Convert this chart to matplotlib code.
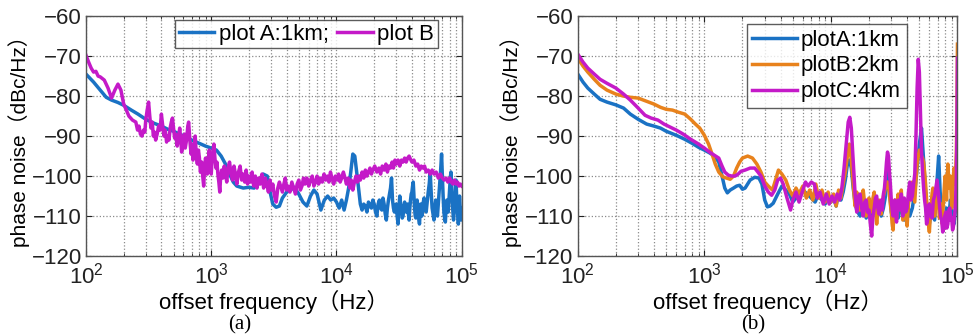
import numpy as np
import matplotlib
matplotlib.use('Agg')
import matplotlib.pyplot as plt
from matplotlib.ticker import LogLocator, FixedLocator

plt.rcParams['font.family'] = ['Liberation Sans', 'Noto Sans CJK SC', 'DejaVu Sans']
plt.rcParams['mathtext.fontset'] = 'custom'
plt.rcParams['mathtext.rm'] = 'Liberation Sans'
plt.rcParams['mathtext.it'] = 'Liberation Sans'

# (frequency Hz, phase noise dBc/Hz)
# ---- (a) plot A:1km ----
a_plotA = [(100, -74.5), (115, -76.5), (130, -78.5), (145, -80.3), (160, -81.0), (180, -81.6),
           (200, -82.3), (230, -83.5), (260, -84.5), (300, -85.8), (350, -86.8), (400, -87.5),
           (450, -88.3), (500, -88.8), (560, -89.5), (630, -90.3), (700, -91.0), (800, -91.8),
           (900, -92.5), (1000, -93.0), (1100, -93.5), (1200, -95.0), (1300, -97.0),
           (1400, -99.5), (1500, -101.5), (1600, -102.5), (1800, -103.0), (2000, -102.8),
           (2200, -103.0), (2400, -101.5), (2600, -99.5), (2800, -100.0), (2950, -104.0),
           (3100, -107.0), (3300, -107.8), (3500, -107.5), (3700, -105.5), (4000, -104.0),
           (4300, -103.5), (4600, -102.8), (5000, -104.5), (5400, -106.5), (5800, -107.5),
           (6200, -105.0), (6600, -103.5), (7000, -104.5), (7500, -108.5), (8000, -106.0),
           (8500, -105.0), (9000, -106.0), (9500, -105.5), (10000, -106.5), (10500, -108.0),
           (11000, -106.0), (11500, -108.5), (12000, -106.0), (12500, -103.0), (13000, -99.0),
           (13500, -94.5), (14000, -95.0), (14500, -99.0), (15000, -103), (15500, -107),
           (16000, -108.5), (16500, -107), (17000, -107.5), (17500, -109), (18000, -106.5),
           (18500, -107.5), (19000, -108), (19500, -106), (20000, -107), (20500, -109),
           (21000, -110), (21500, -107), (22000, -106), (22500, -108), (23000, -108.5),
           (23500, -105.5), (24000, -107), (24500, -109.5), (25000, -111), (25500, -108),
           (26000, -106), (26500, -104.5), (27000, -103), (27500, -100.5), (28000, -106),
           (28500, -108), (29000, -109), (29500, -107.5), (30000, -107), (30500, -110),
           (31000, -112), (31500, -108), (32000, -105), (32500, -107), (33000, -108),
           (33500, -110.5), (34000, -110), (34500, -107.5), (35000, -106.5), (35500, -108),
           (36000, -109), (36500, -107.5), (37000, -107), (37500, -109.5), (38000, -111),
           (38500, -108), (39000, -106), (39500, -104.5), (40000, -104), (40500, -102.5),
           (41000, -101.5), (41500, -105), (42000, -108), (42500, -110), (43000, -110.5),
           (43500, -108), (44000, -106), (44500, -107.5), (45000, -109), (45500, -111),
           (46000, -112), (46500, -109), (47000, -107), (47500, -108.5), (48000, -110),
           (49000, -107), (50000, -105.5), (51000, -107.5), (52000, -109), (53000, -106.5),
           (54000, -104), (55000, -102), (56000, -99), (57000, -104), (58000, -108),
           (59000, -109.5), (60000, -111), (61000, -108), (62000, -106), (63000, -108.5),
           (64000, -110), (65000, -107), (66000, -104), (67000, -101), (68000, -98),
           (69000, -94.5), (70000, -100), (71000, -105), (72000, -109), (73000, -110.5),
           (74000, -111.5), (75000, -108), (76000, -106), (77000, -107.5), (78000, -109),
           (79000, -106), (80000, -103), (81000, -100.5), (82000, -99), (83000, -102),
           (84000, -106), (85000, -109), (86000, -111), (87000, -109), (88000, -107),
           (89000, -104), (90000, -101), (91000, -105), (92000, -108), (93000, -110),
           (94000, -112), (95000, -108.5), (96000, -105), (97000, -107.5), (98000, -110),
           (99000, -111), (100000, -108)]

# ---- (a) plot B ----
a_plotB = [(100, -69.8), (105, -71.5), (110, -73.0), (115, -74.0), (120, -73.8), (125, -75.0),
           (130, -75.2), (140, -76.0), (150, -78.0), (160, -80.5), (170, -78.5), (180, -77.0),
           (190, -78.5), (200, -82.0), (210, -83.5), (220, -85.0), (235, -86.0), (250, -86.5),
           (258, -88.5), (265, -87.5), (272, -89.5), (280, -90.0), (288, -88.5), (295, -89.0),
           (300, -86.0), (308, -83.5), (316, -81.5), (323, -85.0), (330, -88.0), (338, -86.5),
           (345, -90.0), (352, -89.0), (360, -91.0), (370, -89.5), (380, -87.5), (390, -88.5),
           (400, -84.5), (410, -87.5), (420, -90.0), (430, -88.5), (440, -91.5), (450, -90.0),
           (460, -91.0), (470, -88.0), (480, -86.5), (490, -85.5), (500, -88.0), (510, -90.5),
           (520, -89.5), (535, -92.5), (545, -91.0), (560, -88.0), (570, -90.5), (580, -94.0),
           (595, -92.0), (610, -89.5), (620, -93.0), (635, -91.0), (650, -87.5), (660, -86.5),
           (675, -91.0), (690, -94.5), (700, -92.0), (715, -96.0), (730, -93.0), (745, -90.0),
           (760, -95.0), (775, -97.0), (790, -93.5), (805, -95.5), (820, -99.0), (840, -96.5),
           (855, -100.0), (870, -102.5), (885, -98.0), (900, -95.5), (915, -97.0),
           (930, -99.5), (950, -95.5), (965, -93.5), (980, -97.0), (1000, -99.5),
           (1015, -96.0), (1030, -94.0), (1050, -92.0), (1070, -95.5), (1090, -98.0),
           (1110, -96.5), (1130, -99.5), (1150, -101.5), (1170, -104.0), (1190, -100.0),
           (1210, -98.5), (1240, -100.5), (1270, -97.5), (1300, -99.5), (1330, -101.5),
           (1360, -98.0), (1400, -96.5), (1440, -99.5), (1480, -101.0), (1520, -97.5),
           (1560, -99.5), (1600, -102.0), (1650, -99.0), (1700, -97.5), (1750, -101.0),
           (1800, -99.5), (1850, -101.5), (1900, -98.5), (1950, -102.0), (2000, -100.0),
           (2060, -101.5), (2120, -99.0), (2180, -102.5), (2250, -100.0), (2320, -103.0),
           (2390, -100.5), (2460, -102.0), (2540, -99.5), (2620, -103.0), (2700, -100.5),
           (2780, -102.0), (2860, -104.0), (2940, -101.0), (3020, -103.5), (3100, -102.0),
           (3200, -105.0), (3300, -106.5), (3400, -103.0), (3500, -101.5), (3700, -104.0),
           (3800, -102.0), (3900, -100.5), (4000, -103.5), (4100, -102.5), (4250, -104.0),
           (4400, -101.5), (4550, -103.0), (4700, -104.5), (4850, -102.0), (5000, -101.0),
           (5150, -103.5), (5300, -102.5), (5450, -100.5), (5600, -102.0), (5800, -100.5),
           (6000, -102.5), (6200, -101.0), (6400, -100.0), (6600, -102.5), (6800, -101.5),
           (7000, -100.0), (7200, -102.0), (7450, -100.5), (7700, -101.5), (7950, -99.5),
           (8200, -101.0), (8450, -100.0), (8700, -101.5), (8950, -99.0), (9200, -100.5),
           (9500, -102.0), (9800, -100.0), (10100, -101.0), (10400, -99.5), (10700, -101.5),
           (11000, -100.5), (11350, -99.0), (11700, -100.5), (12000, -102.0), (12400, -100.5),
           (12800, -103.0), (13100, -101.0), (13500, -103.5), (13900, -101.5), (14300, -100.0),
           (14700, -101.5), (15100, -100.0), (15500, -101.0), (16000, -99.0), (16500, -100.5),
           (17000, -98.5), (17500, -100.0), (18000, -99.0), (18500, -98.0), (19000, -99.5),
           (19500, -98.5), (20200, -97.5), (21000, -99.0), (21800, -98.0), (22500, -99.5),
           (23200, -97.5), (24000, -98.5), (24800, -97.0), (25500, -99.0), (26200, -97.5),
           (27000, -98.0), (27800, -96.5), (28500, -98.0), (29300, -96.0), (30000, -97.0),
           (31000, -96.0), (32000, -97.5), (33000, -96.0), (34000, -96.5), (35000, -95.5),
           (36000, -96.5), (37000, -95.5), (38000, -95.0), (39000, -95.8), (40000, -96.5),
           (41500, -96.0), (43000, -97.5), (44500, -97.0), (46000, -98.5), (47500, -97.5),
           (49000, -98.0), (50500, -97.5), (52000, -99.0), (54000, -98.5), (56000, -99.5),
           (58000, -98.5), (60000, -99.5), (62500, -99.0), (65000, -100.5), (67500, -99.5),
           (70000, -100.5), (72500, -101.0), (75000, -100.5), (77500, -101.5), (80000, -100.5),
           (82500, -101.5), (85000, -102.0), (87500, -101.0), (90000, -102.0), (92500, -101.5),
           (95000, -102.5), (97500, -102.0), (100000, -102.5)]

# ---- (b) plotA:1km ----
b_plotA = [(100, -74.5), (110, -76.5), (120, -78.0), (135, -79.5), (150, -80.8), (170, -81.5),
           (200, -82.2), (230, -83.0), (260, -84.5), (300, -85.8), (350, -87.0), (400, -87.5),
           (450, -88.0), (500, -88.8), (600, -89.8), (700, -90.8), (800, -91.8), (900, -92.8),
           (1000, -93.5), (1100, -94.2), (1200, -95.0), (1300, -96.5), (1380, -100.0),
           (1450, -103.0), (1520, -104.2), (1600, -103.5), (1700, -103.0), (1800, -102.5),
           (1900, -102.3), (2000, -103.3), (2100, -103.0), (2300, -101.0), (2500, -100.3),
           (2700, -100.5), (2850, -102.0), (3000, -106.0), (3150, -107.7), (3300, -107.5),
           (3500, -106.8), (3800, -104.5), (4100, -102.5), (4400, -103.5), (4700, -104.5),
           (5000, -106.5), (5300, -105.5), (5600, -104.0), (6000, -103.5), (6500, -104.5),
           (7000, -105.5), (7500, -106.5), (8000, -104.5), (8500, -106.0), (9000, -107.0),
           (9500, -105.5), (10000, -106.5), (10500, -105.5), (11000, -107.5), (11500, -104.0),
           (12000, -106.0), (12500, -104.0), (13000, -101.0), (13500, -97.0), (14000, -96.0),
           (14500, -98.0), (15000, -103.0), (15500, -106.5), (16000, -108.5), (17000, -110.0),
           (18000, -107.0), (19000, -110.5), (20000, -108.0), (21000, -111.0), (22000, -107.5),
           (23000, -109.5), (24000, -106.5), (25000, -110.0), (26000, -108.0), (27000, -105.0),
           (28000, -99.0), (29000, -103.0), (30000, -109.0), (31000, -111.0), (32000, -107.0),
           (34000, -110.5), (36000, -107.0), (38000, -111.0), (40000, -106.5), (42000, -110.0),
           (44000, -108.0), (46000, -104.0), (48000, -98.0), (50000, -92.0), (52000, -88.0),
           (54000, -96.0), (56000, -104.0), (58000, -110.0), (60000, -112.0), (63000, -107.0),
           (66000, -111.0), (69000, -101.0), (71000, -95.0), (73000, -104.0), (76000, -110.0),
           (79000, -112.0), (82000, -108.0), (85000, -111.0), (88000, -106.0), (91000, -110.0),
           (94000, -112.0), (96000, -109.0), (98000, -104.0), (100000, -103.0)]

# ---- (b) plotB:2km ----
b_plotB = [(100, -70.5), (110, -72.5), (120, -74.0), (135, -75.8), (150, -77.3), (170, -78.5),
           (200, -79.5), (230, -80.0), (260, -80.3), (300, -80.5), (350, -81.3), (400, -82.0),
           (450, -82.8), (500, -83.3), (560, -83.5), (620, -84.0), (700, -84.5), (780, -85.8),
           (850, -87.0), (920, -88.0), (1000, -89.8), (1080, -92.0), (1150, -94.5),
           (1220, -97.0), (1300, -99.0), (1400, -100.2), (1500, -100.5), (1600, -100.8),
           (1700, -100.0), (1800, -98.0), (1900, -96.5), (2000, -95.5), (2200, -95.0),
           (2400, -95.5), (2600, -97.0), (2800, -99.0), (3000, -101.5), (3200, -102.5),
           (3450, -103.5), (3650, -101.0), (3850, -98.5), (4100, -99.5), (4400, -101.0),
           (4700, -103.5), (5000, -105.0), (5300, -103.0), (5600, -104.5), (6000, -102.5),
           (6400, -105.5), (6800, -103.5), (7200, -106.0), (7600, -102.0), (8000, -105.5),
           (8500, -103.5), (9000, -106.5), (9500, -104.0), (10000, -106.5), (10500, -104.5),
           (11000, -107.5), (11500, -103.5), (12000, -105.5), (12500, -102.0), (13000, -99.0),
           (13500, -95.0), (14000, -92.0), (14500, -96.0), (15000, -102.0), (15500, -107.5),
           (16000, -104), (16500, -106.5), (17000, -108.5), (17500, -105), (18000, -103.5),
           (18500, -107), (19000, -110), (19500, -106.5), (20000, -105.5), (20500, -108),
           (21000, -109), (21500, -105.5), (22000, -104), (22500, -108), (23000, -112),
           (23500, -108.5), (24000, -106), (24500, -108), (25000, -109.5), (25500, -106.5),
           (26000, -105), (26500, -104), (27000, -103), (27500, -101.5), (28000, -101.5),
           (28500, -102), (29000, -104.5), (29500, -107), (30000, -109), (30500, -112),
           (31000, -113.5), (31500, -109), (32000, -106), (32500, -108.5), (33000, -110.5),
           (33500, -107), (34000, -104.5), (35000, -108), (36000, -103.5), (37000, -111),
           (38000, -106), (39000, -109.5), (40000, -112.5), (41000, -107), (42000, -104.5),
           (43000, -103), (44000, -101.5), (45000, -104), (46000, -106.5), (47000, -101),
           (48000, -97), (49000, -95), (50000, -93.5), (51000, -94), (52000, -95),
           (53000, -95.5), (54000, -96.5), (55000, -99), (56000, -102), (57000, -106),
           (58000, -109.5), (59000, -112), (60000, -114), (61000, -110), (62000, -107),
           (63000, -104.5), (64000, -103), (65000, -106.5), (66000, -110), (67000, -108),
           (68000, -106), (69000, -105), (70000, -104.5), (71000, -107.5), (72000, -110.5),
           (73000, -109), (74000, -107), (75000, -109.5), (76000, -112), (77000, -108),
           (78000, -105), (79000, -102), (80000, -100), (81000, -103), (82000, -106),
           (83000, -101), (84000, -97), (85000, -100), (86000, -103), (87000, -101),
           (88000, -100), (89000, -104), (90000, -108), (91000, -106), (92000, -104),
           (93000, -100), (94000, -98), (95000, -100), (96000, -102), (97000, -98),
           (98000, -94), (99000, -85), (100000, -67)]

# ---- (b) plotC:4km ----
b_plotC = [(100, -69.5), (110, -71.5), (120, -73.0), (135, -74.5), (150, -75.8), (170, -76.8),
           (200, -78.0), (230, -79.5), (260, -81.0), (300, -83.0), (340, -84.8), (380, -85.5),
           (430, -86.0), (480, -87.0), (540, -87.8), (600, -88.5), (680, -89.5), (780, -90.8),
           (880, -91.8), (1000, -93.0), (1100, -94.0), (1200, -94.8), (1300, -95.5),
           (1380, -97.5), (1450, -99.0), (1550, -99.8), (1650, -100.0), (1750, -100.0),
           (1850, -99.5), (1950, -98.8), (2100, -98.5), (2300, -98.0), (2500, -98.0),
           (2650, -99.0), (2800, -100.0), (3000, -102.5), (3200, -104.0), (3400, -104.8),
           (3600, -103.5), (3800, -101.0), (4000, -100.5), (4200, -102.0), (4500, -105.5),
           (4800, -108.5), (5000, -106.0), (5300, -104.0), (5600, -106.5), (6000, -103.5),
           (6300, -101.5), (6600, -102.5), (7000, -101.5), (7400, -102.0), (7800, -105.5),
           (8200, -104.0), (8700, -107.0), (9200, -104.5), (9700, -107.0), (10200, -105.0),
           (10700, -106.5), (11200, -104.5), (11700, -106.0), (12200, -103.0), (12700, -98.0),
           (13200, -92.0), (13700, -86.5), (14100, -85.3), (14500, -88.0), (15000, -96.0),
           (15500, -104.0), (16000, -109), (16500, -105), (17000, -104.5), (17500, -108),
           (18000, -110), (18500, -106.5), (19000, -106), (19500, -109), (20000, -108.5),
           (20500, -112), (21000, -115), (21500, -110), (22000, -108), (22500, -105.5),
           (23000, -105), (23500, -108), (24000, -109.5), (24500, -106.5), (25000, -106),
           (25500, -108.5), (26000, -104.5), (26500, -103), (27000, -100), (27500, -96.5),
           (28000, -94), (28500, -95), (29000, -99), (29500, -102), (30000, -106),
           (30500, -108.5), (31000, -110), (31500, -107.5), (32000, -106), (32500, -109.5),
           (33000, -111.5), (33500, -108), (34000, -106), (35000, -108.5), (36000, -104.5),
           (37000, -110), (38000, -105.5), (39000, -109), (40000, -108), (41000, -104),
           (42000, -101.5), (43000, -106), (44000, -105), (45000, -102), (46000, -99.5),
           (47000, -90), (48000, -78), (49000, -70.8), (50000, -74), (51000, -84),
           (52000, -94), (53000, -99), (54000, -103), (55000, -106), (56000, -108),
           (57000, -112), (58000, -111), (59000, -107.5), (60000, -107), (61500, -110),
           (63000, -110.5), (64500, -106), (66000, -105), (67500, -103), (69000, -101),
           (70500, -104), (72000, -107), (73500, -110), (75000, -111), (76500, -114),
           (78000, -113), (79500, -110), (81000, -109), (82500, -113), (84000, -112),
           (85500, -108.5), (87000, -108), (88500, -111), (90000, -110.5), (91500, -113.5),
           (93000, -112.5), (94500, -110), (96000, -108.5), (97000, -105), (98000, -100),
           (99000, -90), (100000, -70.5)]

labels_a = ['plot A:1km;', 'plot B']
labels_b = ['plotA:1km', 'plotB:2km', 'plotC:4km']
yticks = [-120, -110, -100, -90, -80, -70, -60]

c_blue = '#1a72c4'
c_orange = '#e8821c'
c_mag = '#c41ac8'
fs = 16

fig = plt.figure(figsize=(9.76, 3.36), dpi=100)
ax1 = fig.add_axes([0.0881, 0.238, 0.385, 0.714])
ax2 = fig.add_axes([0.592, 0.238, 0.389, 0.714])


def style(ax):
    ax.set_xscale('log')
    ax.set_xlim(1e2, 1e5)
    ax.set_ylim(-120, -60)
    ax.yaxis.set_major_locator(FixedLocator(yticks))
    ax.xaxis.set_major_locator(LogLocator(base=10, numticks=10))
    ax.xaxis.set_minor_locator(LogLocator(base=10, subs=np.arange(2, 10), numticks=10))
    ax.grid(True, which='major', color='#8a8a8a', linestyle=':', linewidth=0.9)
    ax.grid(True, which='minor', axis='x', color='#8a8a8a', linestyle=':', linewidth=0.9)
    ax.tick_params(which='both', direction='in', top=True, right=True,
                   labelsize=fs, colors='#222222')
    ax.tick_params(axis='x', pad=5)
    ax.tick_params(axis='y', pad=3)
    ax.tick_params(which='major', length=4)
    ax.tick_params(which='minor', length=2)
    for s in ax.spines.values():
        s.set_color('#555555')
        s.set_linewidth(1.0)
    ax.set_xlabel('offset frequency（Hz）', fontsize=fs, labelpad=1)
    ax.set_ylabel('phase noise（dBc/Hz）', fontsize=15, labelpad=1)


def draw(ax, pts, color, label):
    f, v = zip(*pts)
    ax.plot(f, v, color=color, lw=2.5, label=label)


draw(ax1, a_plotA, c_blue, labels_a[0])
draw(ax1, a_plotB, c_mag, labels_a[1])
style(ax1)
leg1 = ax1.legend(loc='upper right', ncol=2, fontsize=fs, frameon=True, fancybox=False,
                  edgecolor='#333333', handlelength=1.6, handletextpad=0.2,
                  columnspacing=0.4, borderpad=0.15, borderaxespad=0,
                  bbox_to_anchor=(0.936, 0.983))
leg1.get_frame().set_linewidth(1.0)

draw(ax2, b_plotA, c_blue, labels_b[0])
draw(ax2, b_plotB, c_orange, labels_b[1])
draw(ax2, b_plotC, c_mag, labels_b[2])
style(ax2)
leg2 = ax2.legend(loc='upper right', fontsize=fs, frameon=True, fancybox=False,
                  edgecolor='#333333', handlelength=2.0, handletextpad=0.2,
                  borderpad=0.25, labelspacing=0.22, borderaxespad=0,
                  bbox_to_anchor=(0.866, 0.967))
leg2.get_frame().set_linewidth(1.0)

fig.text(0.246, 0.02, '(a)', fontsize=15, family='Liberation Serif', ha='center')
fig.text(0.772, 0.02, '(b)', fontsize=15, family='Liberation Serif', ha='center')

fig.savefig('out.png', dpi=100)
